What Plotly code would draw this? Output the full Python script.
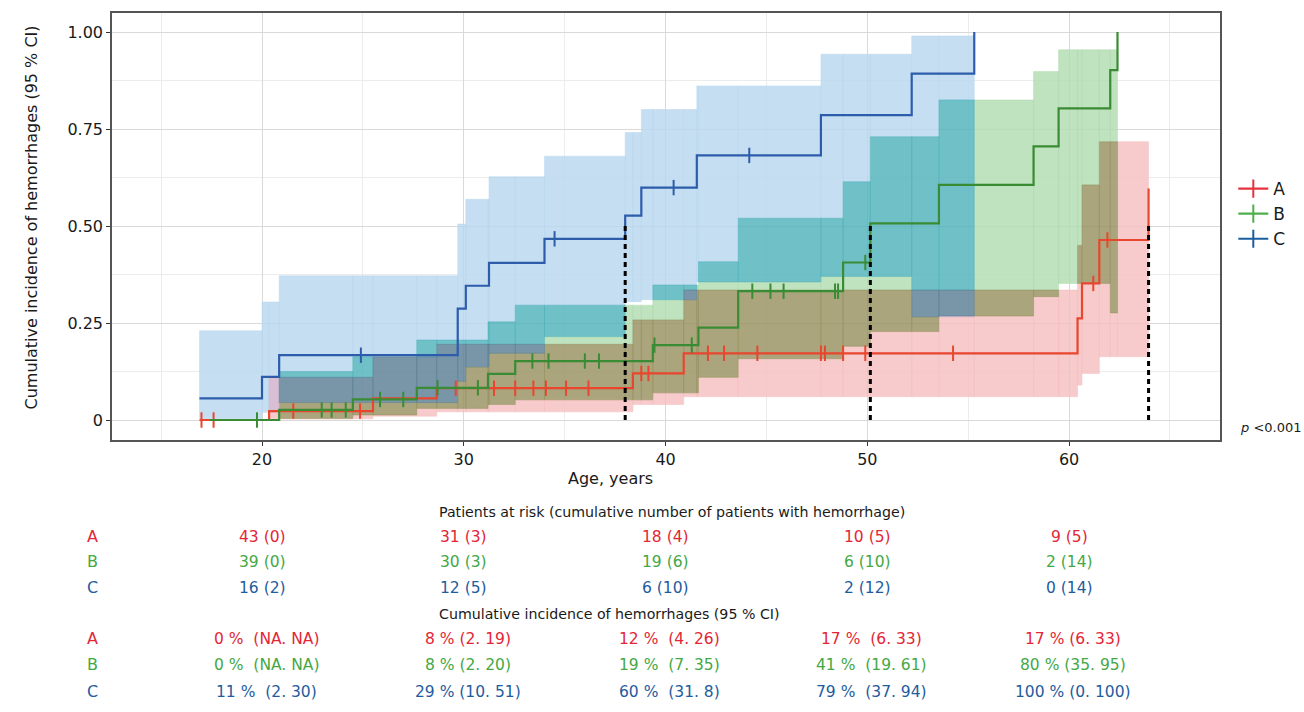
import numpy as np
import plotly.graph_objects as go

groups = ["A", "B", "C"]

# Cumulative incidence step curves (age at event, value after the step)
a_time = [16.9, 20.35, 25.5, 28.66, 38.38, 40.9, 60.42, 60.64, 61.5, 63.94]
a_est = [0.0, 0.023, 0.056, 0.082, 0.120, 0.172, 0.262, 0.352, 0.464, 0.597]
b_time = [17.4, 20.85, 24.5, 27.67, 31.2, 32.55, 39.37, 41.63, 43.6, 48.8, 50.15, 53.55, 58.24, 59.48, 62.04, 62.4]
b_est = [0.0, 0.026, 0.053, 0.083, 0.119, 0.152, 0.193, 0.238, 0.332, 0.406, 0.507, 0.606, 0.705, 0.803, 0.902, 1.0]
c_time = [16.9, 20.0, 20.85, 29.7, 30.1, 31.25, 34.0, 38.0, 38.8, 41.55, 47.7, 52.2, 55.3]
c_est = [0.056, 0.111, 0.167, 0.287, 0.346, 0.405, 0.467, 0.527, 0.599, 0.682, 0.786, 0.893, 1.0]

# 95 % confidence bands (step start, lower, upper; band ends at *_ci_end)
a_ci_time = [20.35, 25.5, 28.66, 38.38, 40.9, 60.42, 60.64, 61.5]
a_ci_low = [0.003, 0.010, 0.021, 0.040, 0.060, 0.090, 0.120, 0.163]
a_ci_high = [0.110, 0.163, 0.195, 0.258, 0.335, 0.450, 0.606, 0.717]
a_ci_end = 63.94
b_ci_time = [20.85, 24.5, 27.67, 31.2, 32.55, 39.37, 41.63, 43.6, 48.8, 50.15, 53.55, 58.24, 59.48, 62.04]
b_ci_low = [0.004, 0.013, 0.030, 0.040, 0.052, 0.070, 0.110, 0.158, 0.190, 0.228, 0.268, 0.318, 0.352, 0.276]
b_ci_high = [0.125, 0.163, 0.206, 0.253, 0.296, 0.348, 0.408, 0.520, 0.614, 0.730, 0.825, 0.898, 0.954, 0.954]
b_ci_end = 62.4
c_ci_time = [16.9, 20.0, 20.85, 29.7, 30.1, 31.25, 34.0, 38.0, 38.8, 41.55, 47.7, 52.2]
c_ci_low = [0.004, 0.020, 0.045, 0.100, 0.137, 0.172, 0.215, 0.305, 0.310, 0.356, 0.370, 0.266]
c_ci_high = [0.230, 0.304, 0.372, 0.505, 0.569, 0.627, 0.680, 0.741, 0.800, 0.861, 0.943, 0.990]
c_ci_end = 55.3

# Censoring ages
a_cens = [17.0, 17.6, 21.55, 24.86, 29.6, 31.5, 32.55, 33.45, 34.07, 35.07, 36.18, 38.8, 39.15,
          42.1, 42.9, 44.55, 47.7, 47.9, 48.8, 49.9, 54.25, 61.2, 61.9]
b_cens = [19.75, 22.96, 23.45, 24.15, 25.85, 27.0, 28.7, 30.7, 33.4, 34.2, 36.0, 36.7, 39.45,
          41.3, 44.3, 45.2, 45.85, 48.4, 48.55, 49.9]
c_cens = [24.9, 34.5, 40.4, 44.15]

# Tables under the plot
table_ages = [20, 30, 40, 50, 60]
risk_a = ["43 (0)", "31 (3)", "18 (4)", "10 (5)", "9 (5)"]
risk_b = ["39 (0)", "30 (3)", "19 (6)", "6 (10)", "2 (14)"]
risk_c = ["16 (2)", "12 (5)", "6 (10)", "2 (12)", "0 (14)"]
inc_a = ["0 %  (NA. NA)", "8 % (2. 19)", "12 %  (4. 26)", "17 %  (6. 33)", "17 % (6. 33)"]
inc_b = ["0 %  (NA. NA)", "8 % (2. 20)", "19 %  (7. 35)", "41 %  (19. 61)", "80 % (35. 95)"]
inc_c = ["11 %  (2. 30)", "29 % (10. 51)", "60 %  (31. 8)", "79 %  (37. 94)", "100 % (0. 100)"]

line_colors = {"A": "#E8462E", "B": "#3A8C34", "C": "#2D5DAA"}
key_colors = {"A": "#E5323F", "B": "#4FAF4A", "C": "#1B5E9E"}
text_colors = {"A": "#E32636", "B": "#45A845", "C": "#1F5C9E"}

FONT = "DejaVu Sans, sans-serif"
INK = "#1a1a1a"

curves = {
    "A": (a_time, a_est, a_cens, (a_ci_time, a_ci_low, a_ci_high, a_ci_end)),
    "B": (b_time, b_est, b_cens, (b_ci_time, b_ci_low, b_ci_high, b_ci_end)),
    "C": (c_time, c_est, c_cens, (c_ci_time, c_ci_low, c_ci_high, c_ci_end)),
}

# Colours of each overlap combination of bands
combo_rgb = {
    frozenset("A"): (247, 203, 203),
    frozenset("B"): (191, 226, 191),
    frozenset("C"): (198, 222, 242),
    frozenset("AB"): (170, 165, 125),
    frozenset("BC"): (112, 192, 200),
    frozenset("AC"): (217, 190, 212),
    frozenset("ABC"): (120, 150, 168),
}
ALPHA = 0.82


def rgba_over_white(rgb, a=ALPHA):
    r, g, b = [max(0, min(255, round(255 - (255 - c) / a))) for c in rgb]
    return f"rgba({r},{g},{b},{a})"


def step_value(times, values, x):
    i = np.searchsorted(times, x, side="right") - 1
    return values[max(i, 0)]


def band_at(ci, x):
    t, lo, hi, end = ci
    if x < t[0] or x >= end:
        return None
    i = np.searchsorted(t, x, side="right") - 1
    return lo[i], hi[i]


fig = go.Figure()

# Partition the plane into cells and colour each by which bands cover it
breaks = sorted(set(a_ci_time + b_ci_time + c_ci_time + [a_ci_end, b_ci_end, c_ci_end]))
paths = {k: ([], []) for k in combo_rgb}
for x0, x1 in zip(breaks[:-1], breaks[1:]):
    xm = 0.5 * (x0 + x1)
    bands = {g: band_at(curves[g][3], xm) for g in groups}
    edges = sorted({v for b in bands.values() if b for v in b})
    for y0, y1 in zip(edges[:-1], edges[1:]):
        ym = 0.5 * (y0 + y1)
        cover = frozenset(g for g, b in bands.items() if b and b[0] <= ym <= b[1])
        if not cover:
            continue
        px, py = paths[cover]
        px += [x0, x1, x1, x0, x0, None]
        py += [y0, y0, y1, y1, y0, None]

for combo, (px, py) in paths.items():
    if not px:
        continue
    col = rgba_over_white(combo_rgb[combo])
    fig.add_trace(go.Scatter(
        x=px, y=py, mode="lines", fill="toself", fillcolor=col,
        line=dict(width=0.6, color=col), hoverinfo="skip", showlegend=False,
    ))

# Step curves and censoring ticks
for g in groups:
    t, est, cens, _ = curves[g]
    fig.add_trace(go.Scatter(
        x=t, y=est, mode="lines", line=dict(color=line_colors[g], width=2.2, shape="hv"),
        showlegend=False, hoverinfo="skip",
    ))
    fig.add_trace(go.Scatter(
        x=cens, y=[step_value(t, est, c) for c in cens], mode="markers",
        marker=dict(symbol="line-ns", size=11, line=dict(width=2, color=line_colors[g])),
        showlegend=False, hoverinfo="skip",
    ))

# Median lines
for g in groups:
    t, est, _, _ = curves[g]
    xm = next(tt for tt, e in zip(t, est) if e >= 0.5)
    fig.add_trace(go.Scatter(
        x=[xm, xm], y=[0, 0.5], mode="lines",
        line=dict(color="black", width=3, dash="5px,4px"),
        showlegend=False, hoverinfo="skip",
    ))

# Legend keys
for g in groups:
    fig.add_trace(go.Scatter(
        x=[None], y=[None], mode="lines+markers", name=g,
        line=dict(color=key_colors[g], width=2.2),
        marker=dict(symbol="line-ns", size=13, line=dict(width=2, color=key_colors[g])),
    ))

W, H = 1304, 712
L, R, T, B = 112, 84, 13, 272
pw = W - L - R
ph = H - T - B


def px2paper(px):
    return (px - L) / pw


def py2paper(py):
    return (H - B - py) / ph


annotations = []
annotations.append(dict(text="Cumulative incidence of hemorrhages (95 % CI)", textangle=-90,
                        x=px2paper(19), y=py2paper(218), xref="paper", yref="paper",
                        showarrow=False, font=dict(size=16, color=INK)))
annotations.append(dict(text="Age, years", x=px2paper(610), y=py2paper(490),
                        xref="paper", yref="paper", showarrow=False,
                        font=dict(size=16, color=INK)))
annotations.append(dict(text="<i>p</i> <0.001", x=px2paper(1238), y=py2paper(437), xref="paper",
                        yref="paper", xanchor="left", showarrow=False,
                        font=dict(size=13, color=INK)))

titles = [("Patients at risk (cumulative number of patients with hemorrhage)", 522),
          ("Cumulative incidence of hemorrhages (95 % CI)", 624)]
for txt, yy in titles:
    annotations.append(dict(text=txt, x=px2paper(437), y=py2paper(yy), xref="paper",
                            yref="paper", xanchor="left", showarrow=False,
                            font=dict(size=14.2, color=INK)))

rows = [(risk_a, "A", 548, 0.0), (risk_b, "B", 573, 0.0), (risk_c, "C", 599, 0.0),
        (inc_a, "A", 650, 0.2), (inc_b, "B", 676, 0.2), (inc_c, "C", 703, 0.2)]
for texts, g, yy, shift in rows:
    annotations.append(dict(text=g, x=px2paper(85), y=py2paper(yy), xref="paper",
                            yref="paper", showarrow=False,
                            font=dict(size=16, color=text_colors[g])))
    for age, txt in zip(table_ages, texts):
        annotations.append(dict(text=txt, x=age + shift, y=py2paper(yy), xref="x", yref="paper",
                                showarrow=False, font=dict(size=15.5, color=text_colors[g])))

fig.update_layout(
    width=W, height=H,
    margin=dict(l=L, r=R, t=T, b=B),
    paper_bgcolor="white", plot_bgcolor="white",
    font=dict(family=FONT, size=16, color=INK),
    showlegend=True,
    legend=dict(x=1.012, y=py2paper(214), xanchor="left", yanchor="middle",
                font=dict(size=17, color=INK), bgcolor="rgba(0,0,0,0)",
                itemwidth=30, tracegroupgap=0),
    annotations=annotations,
    xaxis=dict(
        range=[12.565, 67.48], tickvals=[20, 30, 40, 50, 60],
        ticks="outside", ticklen=4, tickcolor="#333", tickfont=dict(size=16, color=INK),
        showline=True, linecolor="#555", linewidth=1.5, mirror=True,
        showgrid=True, gridcolor="#D9D9D9", gridwidth=1, zeroline=False,
        minor=dict(tickvals=[15, 25, 35, 45, 55, 65], showgrid=True, gridcolor="#ECECEC", gridwidth=1),
    ),
    yaxis=dict(
        range=[-0.0515, 1.049], tickvals=[0, 0.25, 0.5, 0.75, 1.0],
        ticktext=["0", "0.25", "0.50", "0.75", "1.00"],
        ticks="outside", ticklen=4, tickcolor="#333", tickfont=dict(size=16, color=INK),
        showline=True, linecolor="#555", linewidth=1.5, mirror=True,
        showgrid=True, gridcolor="#D9D9D9", gridwidth=1, zeroline=False,
        minor=dict(tickvals=[0.125, 0.375, 0.625, 0.875], showgrid=True, gridcolor="#ECECEC",
                   gridwidth=1),
    ),
)

fig.write_html("out.html")
